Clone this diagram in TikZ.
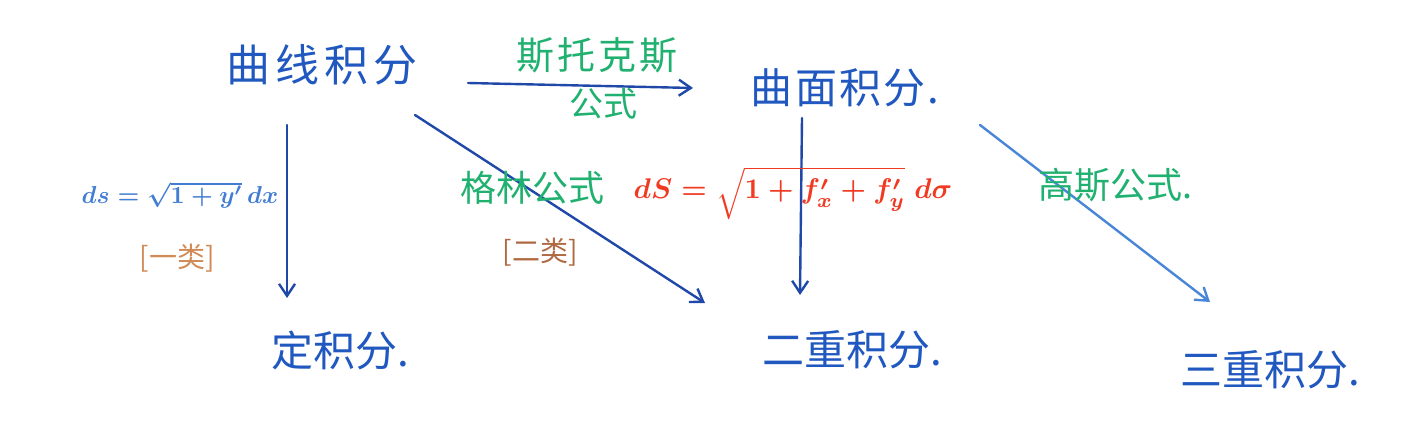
\documentclass[tikz,border=0pt]{standalone}
\usepackage{fontspec}
\newfontfamily\cjk{Noto Sans CJK SC}
\usetikzlibrary{arrows.meta,calc}
\definecolor{nodeblue}{HTML}{2058C0}
\definecolor{arrowblue}{HTML}{2048A8}
\definecolor{lightblue}{HTML}{4A86D8}
\definecolor{fgreen}{HTML}{20B070}
\definecolor{fred}{HTML}{F03A22}
\definecolor{forange}{HTML}{D08A55}
\definecolor{fbrown}{HTML}{B06A42}
\tikzset{
  term/.style={inner sep=0pt, text=nodeblue, font=\cjk\fontsize{42}{48}\selectfont},
  formula/.style={inner sep=0pt, text=fgreen, font=\cjk\fontsize{36}{42}\selectfont},
  kind/.style={inner sep=0pt, font=\cjk\fontsize{28}{34}\selectfont},
  eq/.style={inner sep=0pt, font=\boldmath},
  conn/.style={draw=arrowblue, line width=2.4pt, line cap=round,
    -{Straight Barb[length=12pt,width=16pt,line width=2.4pt]}},
}
\begin{document}
\begin{tikzpicture}[x=1pt,y=-1pt]
\useasboundingbox (0,0) rectangle (1427,425);
% main terms
\node[term, font=\cjk\fontsize{44}{50}\selectfont\addfontfeature{LetterSpace=12}] (a) at (322,65) {曲线积分};
\node[term, font=\cjk\fontsize{42}{48}\selectfont\addfontfeature{LetterSpace=5}] (b) at (845,88) {曲面积分.};
\node[term] (c) at (340,350) {定积分.};
\node[term] (d) at (852,350) {二重积分.};
\node[term] (e) at (1270,370) {三重积分.};
% connectors
\draw[conn] ($(a)+(146,18)$) -- ($(b)+(-152,0)$);
\draw[conn] ($(a)+(-35,60)$) -- ($(c)+(-53,-52)$);
\draw[conn] ($(a)+(93,50)$) -- ($(d)+(-147,-47)$);
\draw[conn] ($(b)+(-43,30)$) -- ($(d)+(-52,-55)$);
\draw[conn, draw=lightblue] ($(b)+(135,37)$) -- ($(e)+(-60,-68)$);
% labels
\node[formula, font=\cjk\fontsize{38}{44}\selectfont\addfontfeature{LetterSpace=8}] (stokes) at (597,55) {斯托克斯};
\node[formula, font=\cjk\fontsize{34}{40}\selectfont] (stokes2) at (603,104) {公式};
\node[formula] (green) at (532,188) {格林公式};
\node[formula] (gauss) at (1115,185) {高斯公式.};
\node[eq, text=lightblue!80!nodeblue, scale=2.45] (ds) at (180,195) {$ds=\sqrt{1+y'}\,dx$};
\node[kind, text=forange] (k1) at (177,258) {[一类]};
\node[kind, text=fbrown] (k2) at (540,252) {[二类]};
\node[eq, text=fred, scale=2.85] (dS) at (793,193) {$dS=\sqrt{1+f_x'+f_y'}\;d\sigma$};
\end{tikzpicture}
\end{document}
